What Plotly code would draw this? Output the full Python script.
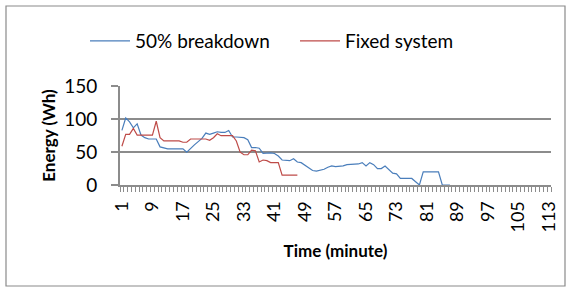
import plotly.graph_objects as go

blue_vals = [83, 102, 96, 87, 93, 76, 72, 70, 70, 70,
             58, 56, 55, 55, 55, 55, 55, 50, 56, 61,
             66, 71, 79, 77, 79, 81, 80, 80, 83, 73,
             73, 73, 72, 69, 57, 57, 56, 48, 49, 49,
             48, 44, 38, 37, 37, 40, 35, 34, 30, 26,
             22, 21, 22, 24, 27, 29, 28, 28, 29, 31,
             31, 31, 32, 34, 29, 34, 31, 25, 25, 29,
             24, 18, 17, 10, 10, 10, 10, 5, 0, 20,
             20, 20, 20, 20, 0, 0, 0]
red_vals = [59, 77, 77, 86, 76, 76, 76, 76, 76, 97,
            72, 67, 67, 67, 67, 67, 65, 65, 70, 70,
            70, 70, 70, 68, 72, 78, 75, 75, 75, 75,
            67, 50, 46, 46, 53, 52, 35, 38, 37, 34,
            34, 34, 15, 15, 15, 15, 15]
n_categories = 113
tick_labels = list(range(1, 114, 8))
blue_name = "50% breakdown"
red_name = "Fixed system"

blue_x = list(range(1, len(blue_vals) + 1))
red_x = list(range(1, len(red_vals) + 1))

FONT = "Lato"
GRID = "#8c8c8c"

fig = go.Figure()
fig.add_trace(go.Scatter(x=blue_x, y=blue_vals, mode="lines", name=blue_name,
                         line=dict(color="#4A7EBB", width=1.2), legend="legend"))
fig.add_trace(go.Scatter(x=red_x, y=red_vals, mode="lines", name=red_name,
                         line=dict(color="#BE4B48", width=1.2), legend="legend2"))

leg_common = dict(orientation="h", xref="container", yref="container",
                  xanchor="left", y=1 - 41 / 289, yanchor="middle",
                  font=dict(family=FONT, size=19), itemwidth=40,
                  bgcolor="rgba(0,0,0,0)")

fig.update_layout(
    width=566, height=289,
    margin=dict(l=120, r=15, t=86, b=104, autoexpand=False),
    paper_bgcolor="white", plot_bgcolor="white",
    font=dict(family=FONT, size=18, color="black"),
    showlegend=True,
    legend=dict(x=85 / 566, **leg_common),
    legend2=dict(x=295 / 566, **leg_common),
    xaxis=dict(
        range=[0.5, n_categories + 0.5], automargin=False,
        tickmode="array", tickvals=tick_labels,
        ticktext=[str(v) for v in tick_labels],
        tickangle=-90, ticks="", showgrid=False, zeroline=False,
        showline=True, linecolor=GRID, linewidth=2,
        tickfont=dict(family=FONT, size=18),
        ticklabelstandoff=7,
        minor=dict(tickmode="linear", tick0=0.5, dtick=1, ticks="outside",
                   ticklen=5, tickcolor=GRID, tickwidth=1, showgrid=False),
        title=dict(text="<b>Time (minute)</b>", font=dict(family=FONT, size=17), standoff=14),
    ),
    yaxis=dict(
        range=[0, 150.6], automargin=False,
        tickmode="array", tickvals=[0, 50, 100, 150],
        showgrid=True, gridcolor=GRID, gridwidth=2, zeroline=False,
        showline=True, linecolor=GRID, linewidth=2,
        ticks="outside", ticklen=7, tickcolor=GRID, tickwidth=2,
        ticklabelstandoff=10,
        tickfont=dict(family=FONT, size=19),
        title=dict(text="<b>Energy (Wh)</b>", font=dict(family=FONT, size=17), standoff=4),
    ),
)

fig.add_shape(type="rect", xref="paper", yref="paper",
              x0=(6 - 120) / 431, x1=(565 - 120) / 431,
              y0=(185 - 286) / 99, y1=(185 - 6) / 99,
              line=dict(color="#8a8a8a", width=1.2), fillcolor="rgba(0,0,0,0)", layer="below")

fig.write_html("out.html", config={"displayModeBar": False},
               post_script="document.body.style.margin='0';")
